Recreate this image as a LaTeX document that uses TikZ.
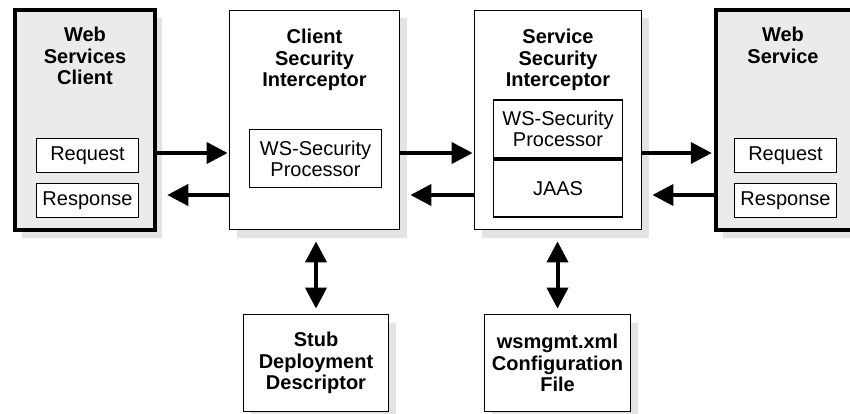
\documentclass[tikz,border=0pt]{standalone}
\usepackage{fontspec}
\setmainfont{Liberation Sans}
\usetikzlibrary{positioning,arrows.meta,shadows}

\begin{document}
\begin{tikzpicture}[x=1pt,y=-1pt,
    box/.style={draw,line width=1.8pt,fill=white,inner sep=0pt,
      drop shadow={shadow xshift=7pt,shadow yshift=-8pt,fill=black!11,opacity=1}},
    endpoint/.style={box,line width=4.5pt,fill=black!8,minimum width=140,minimum height=220},
    interceptor/.style={box,minimum height=219},
    filebox/.style={box,minimum height=97,align=center,font=\bfseries\fontsize{20}{21.5}\selectfont},
    msg/.style={draw,line width=1.8pt,fill=white,inner sep=0pt,minimum width=102,minimum height=34,
      font=\fontsize{20}{21}\selectfont},
    part/.style={msg,align=center,minimum height=58},
    title/.style={inner sep=0pt,anchor=north,align=center,font=\bfseries\fontsize{20}{21.5}\selectfont},
    flow/.style={line width=4pt,-{Triangle[length=21pt,width=21pt]}},
    both/.style={line width=4pt,{Triangle[length=21pt,width=21pt]}-{Triangle[length=21pt,width=21pt]}}]
    \useasboundingbox (0,0) rectangle (850,414);

    % main row
    \node[endpoint] (wsc) at (85,120) {};
    \node[interceptor,minimum width=170] (csi) at (314.5,120) {};
    \node[interceptor,minimum width=167] (ssi) at (558,120) {};
    \node[endpoint] (ws) at (786,120) {};

    \node[title] (wsct) at (85,27) {Web\\Services\\Client};
    \node[title] (csit) at (314.5,29) {Client\\Security\\Interceptor};
    \node[title] (ssit) at (558,29) {Service\\Security\\Interceptor};
    \node[title] (wst) at (783,27) {Web\\Service};

    % inner boxes
    \node[msg] (wscreq) at (87.5,155.5) {Request};
    \node[msg] (wscres) at (87.5,200.5) {Response};
    \node[msg] (wsreq) at (785.5,155.5) {Request};
    \node[msg] (wsres) at (785.5,200.5) {Response};
    \node[part,minimum width=132] (cproc) at (315.5,158.5) {WS-Security\\Processor};
    \node[part,minimum width=129] (sproc) at (558,129) {WS-Security\\Processor};
    \node[part,minimum width=129,minimum height=57,below=0pt of sproc] (jaas) {JAAS};

    % files
    \node[filebox,minimum width=145] (stub) at (316,363) {Stub\\Deployment\\Descriptor};
    \node[filebox,minimum width=146] (cfg) at (557.5,363) {wsmgmt.xml\\Configuration\\File};

    % connectors
    \coordinate (rq) at (0,153);
    \coordinate (rs) at (0,195);
    \draw[flow,shorten >=1] (wsc.east |- rq) -- (csi.west |- rq);
    \draw[flow,shorten >=10] (csi.west |- rs) -- (wsc.east |- rs);
    \draw[flow,shorten >=1] (csi.east |- rq) -- (ssi.west |- rq);
    \draw[flow,shorten >=10] (ssi.west |- rs) -- (csi.east |- rs);
    \draw[flow,shorten >=2] (ssi.east |- rq) -- (ws.west |- rq);
    \draw[flow,shorten >=10] (ws.west |- rs) -- (ssi.east |- rs);
    \draw[both,shorten <=11,shorten >=5] (csi.south -| stub.north) -- (stub.north);
    \draw[both,shorten <=11,shorten >=5] (ssi.south -| cfg.north) -- (cfg.north);
\end{tikzpicture}
\end{document}
